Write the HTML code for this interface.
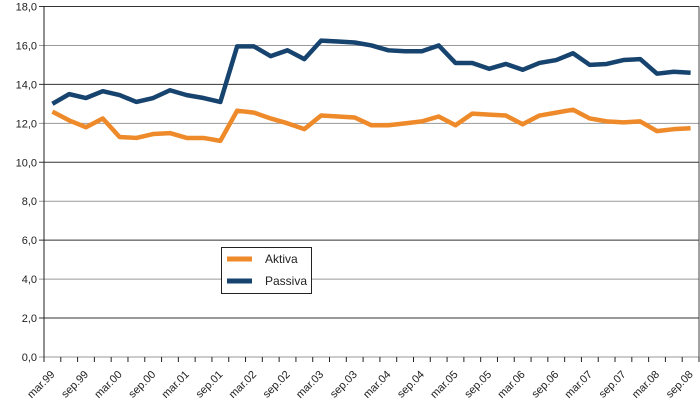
<!DOCTYPE html>
<html><head><meta charset="utf-8"><style>
body{margin:0;background:#fff;}
svg text{font-family:"Liberation Sans",sans-serif;font-size:11px;fill:#222;}
</style></head><body>
<svg id="chart" width="700" height="412" xmlns="http://www.w3.org/2000/svg">
<g id="grid"></g><g id="axes"></g><g id="series"></g>
<g>
<rect x="221.5" y="247.5" width="90" height="46" fill="#fff" stroke="#222" stroke-width="1"/>
<line x1="227" y1="259" x2="252" y2="259" stroke="#ee8a2a" stroke-width="5"/>
<text x="265" y="263" style="font-size:12px">Aktiva</text>
<line x1="227" y1="281" x2="252" y2="281" stroke="#17436f" stroke-width="5"/>
<text x="265" y="285" style="font-size:12px">Passiva</text>
</g>
</svg>
<script>
const categories=["mar.99","jun.99","sep.99","des.99","mar.00","jun.00","sep.00","des.00","mar.01","jun.01","sep.01","des.01","mar.02","jun.02","sep.02","des.02","mar.03","jun.03","sep.03","des.03","mar.04","jun.04","sep.04","des.04","mar.05","jun.05","sep.05","des.05","mar.06","jun.06","sep.06","des.06","mar.07","jun.07","sep.07","des.07","mar.08","jun.08","sep.08"];
const aktiva=[12.6,12.15,11.8,12.25,11.3,11.25,11.45,11.5,11.25,11.25,11.1,12.65,12.55,12.25,12.0,11.7,12.4,12.35,12.3,11.9,11.9,12.0,12.1,12.35,11.9,12.5,12.45,12.4,11.95,12.4,12.55,12.7,12.25,12.1,12.05,12.1,11.6,11.7,11.75];
const passiva=[13.0,13.5,13.3,13.65,13.45,13.1,13.3,13.7,13.45,13.3,13.1,15.95,15.95,15.45,15.75,15.3,16.25,16.2,16.15,16.0,15.75,15.7,15.7,16.0,15.1,15.1,14.8,15.05,14.75,15.1,15.25,15.6,15.0,15.05,15.25,15.3,14.55,14.65,14.6];
const yTicks=[0,2,4,6,8,10,12,14,16,18];
const yTickLabels=["0,0","2,0","4,0","6,0","8,0","10,0","12,0","14,0","16,0","18,0"];
const NS="http://www.w3.org/2000/svg";
const L=44,R=699,T=6.5,B=357,yMax=18;
const step=(R-L)/categories.length;
const x=i=>L+(i+0.5)*step;
const y=v=>B-(v/yMax)*(B-T);
function mk(tag,attrs,parent){const e=document.createElementNS(NS,tag);for(const k in attrs)e.setAttribute(k,attrs[k]);document.getElementById(parent).appendChild(e);return e;}
yTicks.forEach((t,i)=>{
  const g=mk('line',{x1:L-5,x2:R,y1:y(t),y2:y(t),stroke:i%2?'#333':'#999','stroke-width':1},'grid');
  
  
  const tx=mk('text',{x:L-7,y:y(t)+4,'text-anchor':'end'},'axes');
  tx.textContent=yTickLabels[i];
  
  
});
const ya=mk('line',{x1:L,x2:L,y1:T,y2:B,stroke:'#222','stroke-width':1},'axes');


const rb=mk('line',{x1:R,x2:R,y1:T,y2:B,stroke:'#444','stroke-width':1},'axes');


for(let i=0;i<=categories.length;i++){
  const tk=mk('line',{x1:L+i*step,x2:L+i*step,y1:B,y2:B+5,stroke:'#222','stroke-width':1},'axes');
  
  
}
categories.forEach((c,i)=>{
  if(i%2)return;
  const tx=mk('text',{x:x(i)+3,y:B+18,'text-anchor':'end',transform:`rotate(-45 ${x(i)+3} ${B+18})`},'axes');
  tx.textContent=c;
  
  
});
function line(vals,color,name){
  const p=mk('polyline',{points:vals.map((v,i)=>x(i)+','+y(v)).join(' '),fill:'none',stroke:color,'stroke-width':4.5,'stroke-linejoin':'round'},'series');
  
  
}
line(aktiva,'#ee8a2a','aktiva-line');
line(passiva,'#17436f','passiva-line');
</script>
</body></html>
